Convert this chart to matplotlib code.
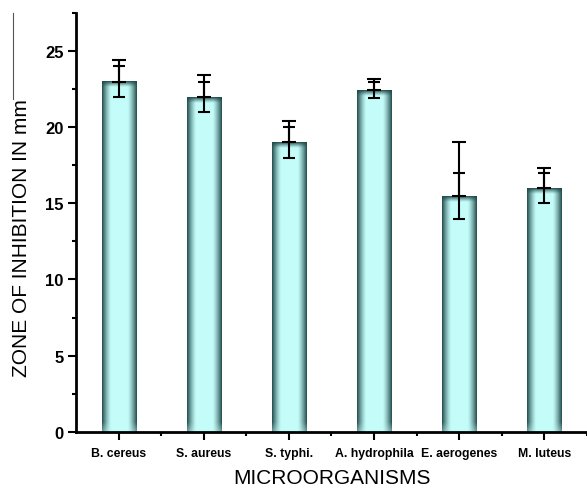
import numpy as np
import matplotlib
matplotlib.use("Agg")
import matplotlib.pyplot as plt
from matplotlib.ticker import MultipleLocator, FixedLocator
from matplotlib.lines import Line2D

# ---- data ----
categories = ["B. cereus", "S. aureus", "S. typhi.", "A. hydrophila", "E. aerogenes", "M. luteus"]
values = [23.0, 22.0, 19.0, 22.45, 15.5, 16.0]
errors = [1.0, 1.0, 1.0, 0.5, 1.5, 1.0]
upper_caps = [24.4, 23.4, 20.4, 23.15, 19.0, 17.35]
yticks = [0, 5, 10, 15, 20, 25]

plt.rcParams['font.family'] = ['Liberation Sans', 'DejaVu Sans']

W, H = 587, 489
fig = plt.figure(figsize=(W / 100, H / 100), dpi=100)
left_px, right_px, bottom_px, top_px = 76, 587, 432.7, 14
ax = fig.add_axes([left_px / W, 1 - bottom_px / H, (right_px - left_px) / W, (bottom_px - top_px) / H])

ymax = 27.5
ax.set_xlim(-0.5, len(categories) - 0.5)
ax.set_ylim(0, ymax)

x = np.arange(len(categories))
bw = 0.4
ax_h_px = bottom_px - top_px
ax_w_px = right_px - left_px
px_per_unit_y = ax_h_px / ymax
px_per_unit_x = ax_w_px / len(categories)

light = np.array([0.77, 0.99, 0.98])
dark = np.array([0.12, 0.29, 0.29])

for xi, v in zip(x, values):
    hpx = int(round(v * px_per_unit_y))
    wpx = int(round(bw * px_per_unit_x))
    cols = np.arange(wpx) + 0.5
    rows = np.arange(hpx) + 0.5  # from top
    dside = np.minimum(cols, wpx - cols)
    side = np.clip(1 - dside / 9.0, 0, 1) ** 1.3
    dtop = rows
    top = np.clip(1 - dtop / 6.0, 0, 1) ** 1.2
    dbot = hpx - rows
    botf = 0.55 + 0.45 * np.clip(dbot / 10.0, 0, 1)
    dk = 1 - (1 - side[None, :] * botf[:, None]) * (1 - top[:, None])
    img = light[None, None, :] * (1 - dk[..., None]) + dark[None, None, :] * dk[..., None]
    ax.imshow(img, extent=[xi - bw / 2, xi + bw / 2, 0, v], aspect='auto',
              interpolation='bilinear', zorder=2)

ax.set_aspect('auto')
ax.set_xlim(-0.5, len(categories) - 0.5)
ax.set_ylim(0, ymax)

ax.errorbar(x, values, yerr=errors, fmt='none', ecolor='black', elinewidth=1.5,
            capsize=4.5, capthick=1.5, zorder=3)
upper = [u - v for u, v in zip(upper_caps, values)]
ax.errorbar(x, values, yerr=[np.zeros(len(values)), upper], fmt='none', ecolor='black',
            elinewidth=1.5, capsize=5, capthick=1.5, zorder=3)

for s in ['top', 'right']:
    ax.spines[s].set_visible(False)
for s in ['left', 'bottom']:
    ax.spines[s].set_linewidth(2)

ax.set_yticks(yticks)
ax.yaxis.set_minor_locator(MultipleLocator(2.5))
ax.set_xticks(x)
ax.set_xticklabels(categories)
ax.xaxis.set_minor_locator(FixedLocator(np.arange(0.5, len(categories), 1.0)))

ax.tick_params(axis='y', which='major', length=6, width=1.5, pad=3, labelsize=12)
ax.tick_params(axis='y', which='minor', length=3, width=1.5)
ax.tick_params(axis='x', which='major', length=6, width=1.5, pad=5, labelsize=8.8)
ax.tick_params(axis='x', which='minor', length=3, width=1.5)
for lab in ax.get_yticklabels() + ax.get_xticklabels():
    lab.set_fontweight('bold')

ax.set_ylabel("ZONE OF INHIBITION IN mm", fontsize=15, va='center')
ax.yaxis.set_label_coords((22 - left_px) / ax_w_px, (bottom_px - 238) / ax_h_px)
ax.set_xlabel("MICROORGANISMS", fontsize=15, va='center')
ax.xaxis.set_label_coords((332 - left_px) / ax_w_px, (bottom_px - 479) / ax_h_px)

fig.add_artist(Line2D([13 / W, 13 / W], [1 - 14 / H, 1 - 100 / H], color='#555555', lw=0.8))

fig.savefig("out.png", dpi=100)
